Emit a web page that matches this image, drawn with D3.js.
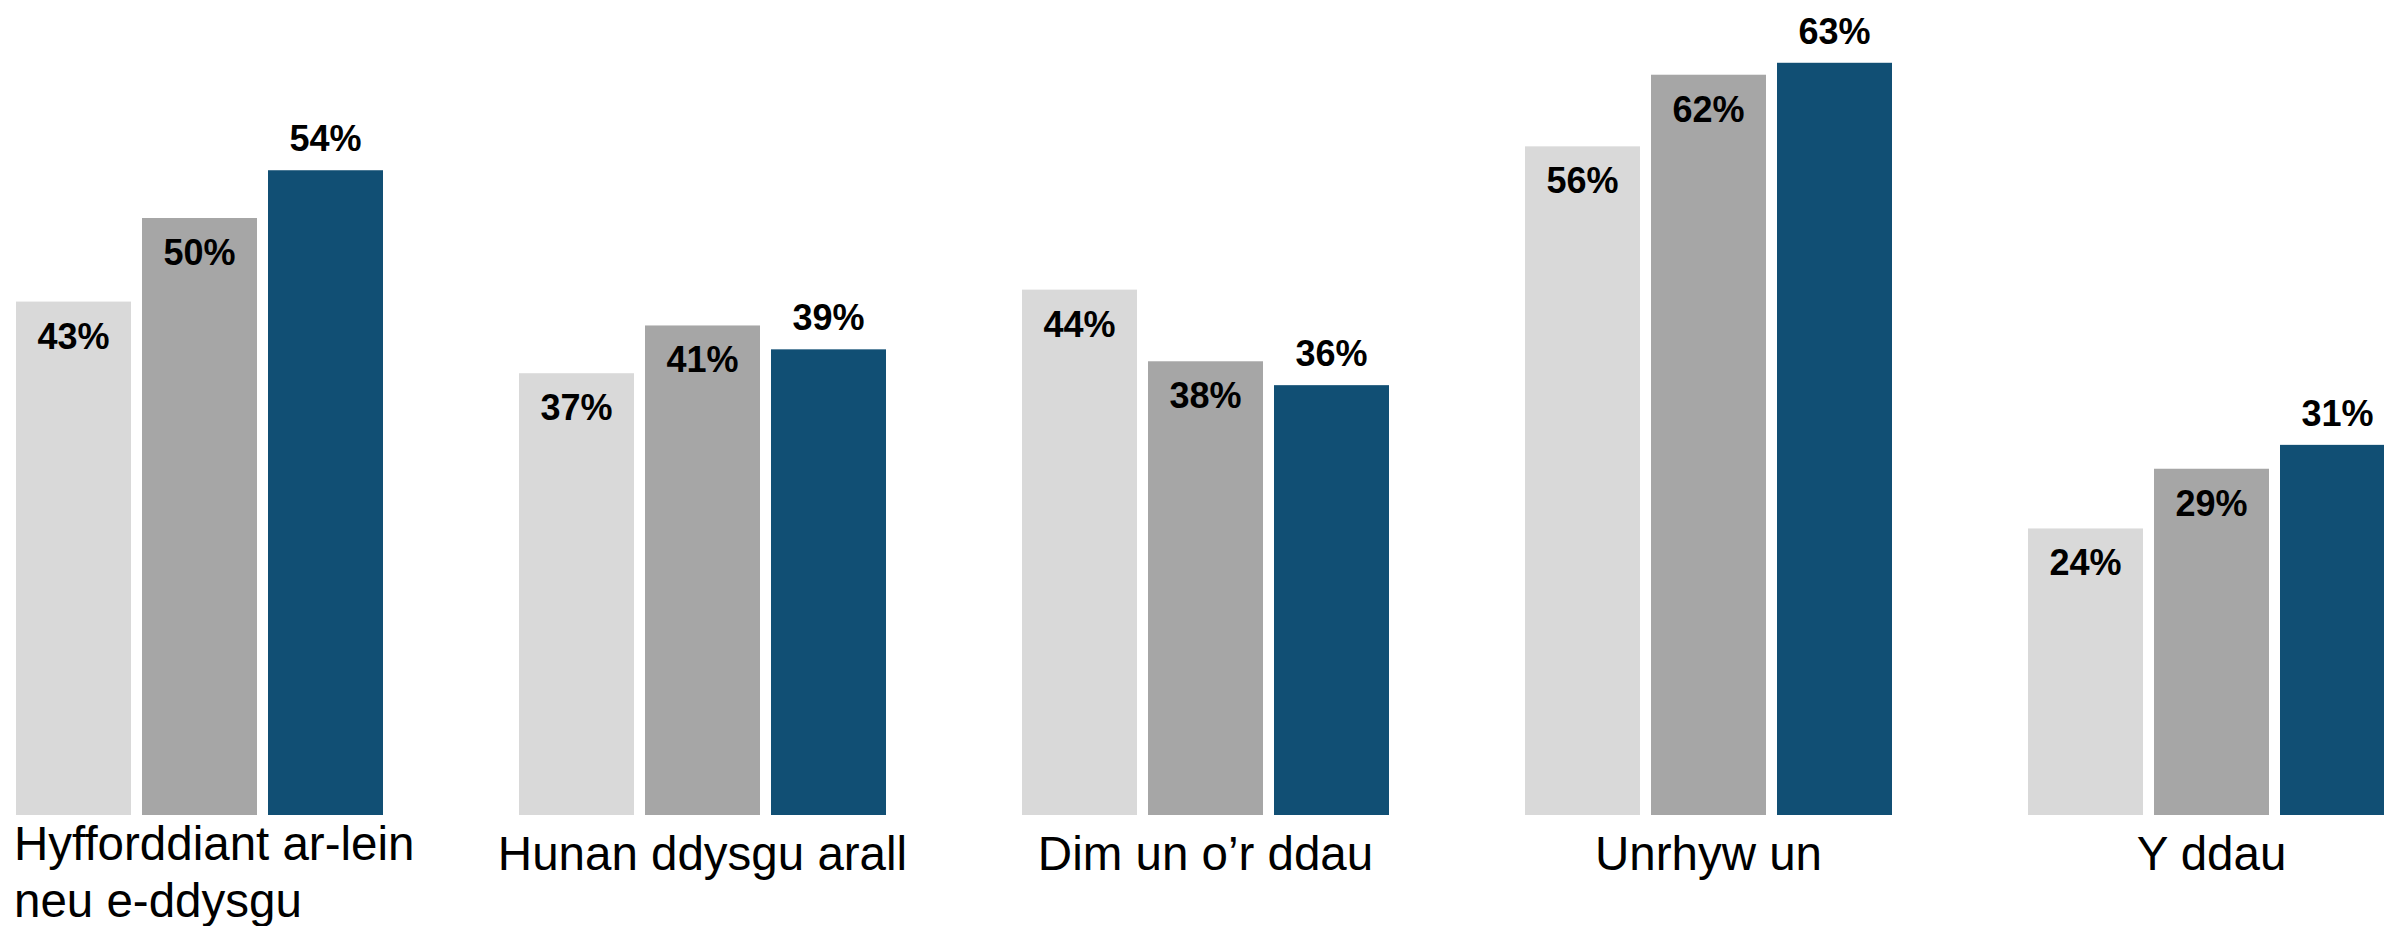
<!DOCTYPE html>
<html>
<head>
<meta charset="utf-8">
<script src="https://cdn.jsdelivr.net/npm/d3@7"></script>
<style>
  body { margin: 0; background: #fff; }
  svg { display: block; font-family: Arial, "Liberation Sans", sans-serif; }
</style>
</head>
<body>
<div id="chart"></div>
<script>
// chart values
var categories = ["Hyfforddiant ar-lein neu e-ddysgu", "Hunan ddysgu arall", "Dim un o’r ddau", "Unrhyw un", "Y ddau"];
// wrapped category labels (one entry per line)
var categoryLines = [["Hyfforddiant ar-lein", "neu e-ddysgu"], ["Hunan ddysgu arall"], ["Dim un o’r ddau"], ["Unrhyw un"], ["Y ddau"]];
var seriesNames = ["cyfres1", "cyfres2", "cyfres3"];
var series1 = [43, 37, 44, 56, 24];
var series2 = [50, 41, 38, 62, 29];
var series3 = [54, 39, 36, 63, 31];

var width = 2384,
  height = 926;
var baseline = 815;

var colors = ["#d9d9d9", "#a6a6a6", "#114f74"];

var svg = d3.select("#chart").append("svg")
  .attr("width", width)
  .attr("height", height);

// build rows from the arrays
var rows = categories.map(function (c, i) {
  return { category: c, values: [series1[i], series2[i], series3[i]] };
});

var x0 = d3.scaleBand()
  .domain(categories)
  .range([16, 2395])
  .paddingInner(136 / 503)
  .paddingOuter(0);

var x1 = d3.scaleBand()
  .domain(seriesNames)
  .range([0, x0.bandwidth()])
  .paddingInner(11 / 126);

var y = d3.scaleLinear()
  .domain([0, 100])
  .range([baseline, baseline - 1194]);

var groups = svg.append("g")
  .selectAll("g")
  .data(rows)
  .enter()
  .append("g")
  .attr("transform", function (d) { return "translate(" + x0(d.category) + ",0)"; });

var bars = groups.selectAll("g.bar")
  .data(function (d) {
    return d.values.map(function (v, j) { return { key: seriesNames[j], idx: j, value: v }; });
  })
  .enter()
  .append("g")
  .attr("class", "bar");

bars.append("rect")
  .attr("x", function (d) { return x1(d.key); })
  .attr("y", function (d) { return y(d.value); })
  .attr("width", x1.bandwidth())
  .attr("height", function (d) { return baseline - y(d.value); })
  .attr("fill", function (d) { return colors[d.idx]; });

// value labels: inside end for the first two series, outside end for the last
bars.append("text")
  .attr("x", function (d) { return x1(d.key) + x1.bandwidth() / 2; })
  .attr("y", function (d) { return d.idx === 2 ? y(d.value) - 19 : y(d.value) + 47; })
  .attr("text-anchor", "middle")
  .attr("font-size", "36px")
  .attr("font-weight", "bold")
  .attr("fill", "#000")
  .text(function (d) { return d.value + "%"; });

// category labels
svg.append("g")
  .selectAll("text")
  .data(categories)
  .enter()
  .append("text")
  .attr("font-size", "47.5px")
  .attr("fill", "#000")
  .each(function (c, i) {
    var lines = categoryLines[i];
    var t = d3.select(this);
    if (lines.length > 1) {
      t.attr("text-anchor", "start");
      lines.forEach(function (line, k) {
        t.append("tspan")
          .attr("x", x0(c) - 2)
          .attr("y", 860 + k * 57)
          .text(line);
      });
    } else {
      t.attr("text-anchor", "middle")
        .attr("x", x0(c) + x0.bandwidth() / 2)
        .attr("y", 870)
        .text(lines[0]);
    }
  });
</script>
</body>
</html>
